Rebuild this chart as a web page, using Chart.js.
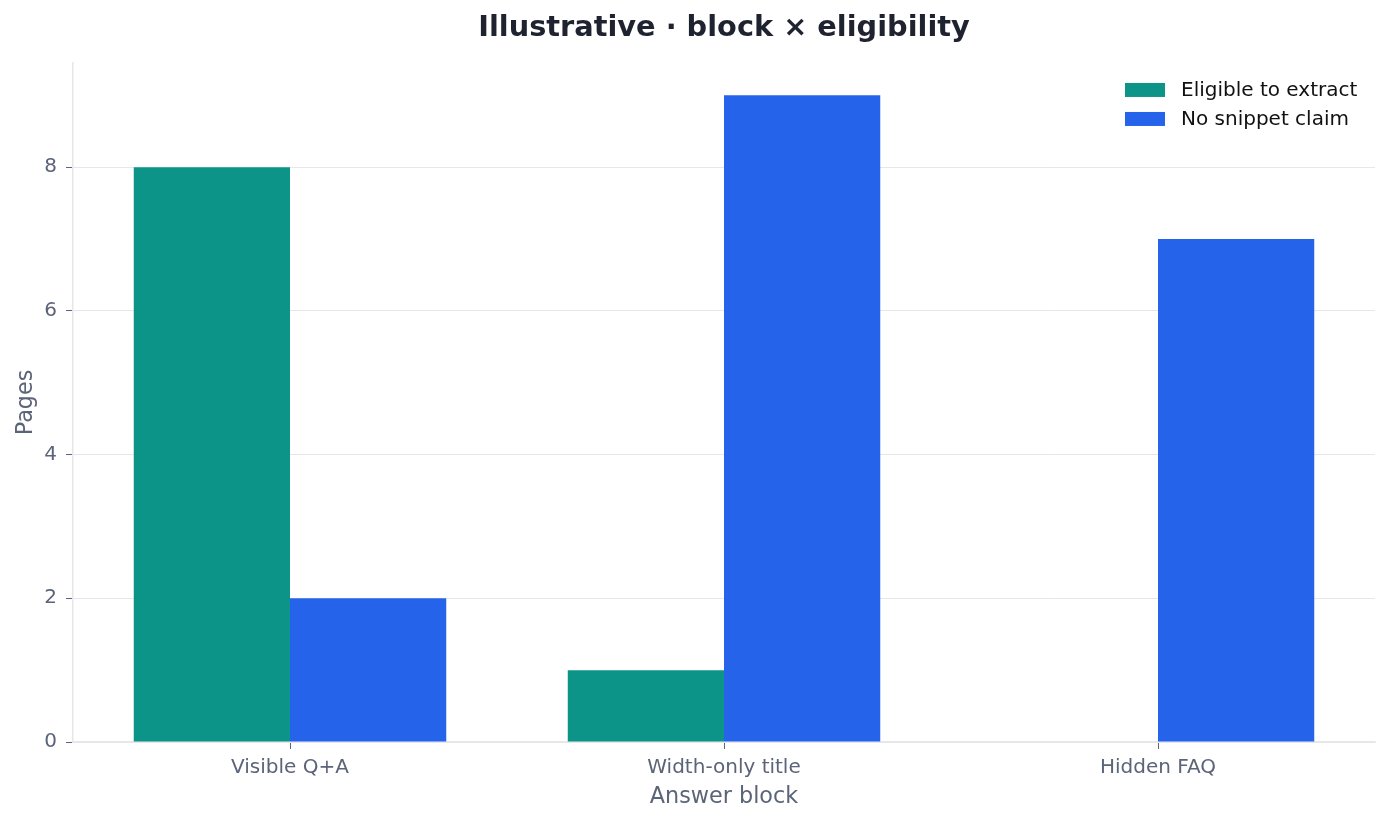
<!DOCTYPE html>
<html>
<head>
<meta charset="utf-8">
<script src="https://cdn.jsdelivr.net/npm/chart.js@4/dist/chart.umd.min.js"></script>
<style>
  html, body { margin: 0; padding: 0; background: #fff; }
  #wrap { width: 1391px; height: 821px; }
</style>
</head>
<body>
<div id="wrap"><canvas id="chart" width="1391" height="821"></canvas></div>
<script>
// data
const categories = ['Visible Q+A', 'Width-only title', 'Hidden FAQ'];
const eligible = [8, 1, 0];
const noSnippet = [2, 9, 7];
const seriesNames = ['Eligible to extract', 'No snippet claim'];
const yTicks = [0, 2, 4, 6, 8];

const tickColor = '#5b6478';
const lineColor = '#e5e7eb';
const font = 'DejaVu Sans';

// legend drawn inside the plot, top right
const insideLegend = {
  id: 'insideLegend',
  afterDraw(chart) {
    const ctx = chart.ctx;
    const area = chart.chartArea;
    ctx.save();
    ctx.font = '20px "' + font + '"';
    ctx.textBaseline = 'middle';
    chart.data.datasets.forEach((ds, i) => {
      const y = area.top + 27 + i * 29;
      const x = area.right - 250;
      ctx.fillStyle = ds.backgroundColor;
      ctx.fillRect(x, y - 7, 40, 14);
      ctx.fillStyle = '#111';
      ctx.fillText(ds.label, x + 56, y + 1);
    });
    ctx.restore();
  }
};

new Chart(document.getElementById('chart'), {
  type: 'bar',
  data: {
    labels: categories,
    datasets: [
      { label: seriesNames[0], data: eligible, backgroundColor: '#0d9488' },
      { label: seriesNames[1], data: noSnippet, backgroundColor: '#2563eb' }
    ]
  },
  options: {
    responsive: false,
    animation: false,
    devicePixelRatio: 1,
    layout: { padding: { left: 0, right: 16, top: 0, bottom: 0 } },
    datasets: { bar: { categoryPercentage: 0.72, barPercentage: 1.0 } },
    plugins: {
      legend: { display: false },
      tooltip: { enabled: false },
      title: {
        display: true,
        fullSize: false,
        text: 'Illustrative · block × eligibility',
        color: '#1f2330',
        font: { family: font, size: 28.8, weight: 'bold', lineHeight: 1.2 },
        padding: { top: 11, bottom: 17.4 }
      }
    },
    scales: {
      x: {
        offset: true,
        grid: { offset: false, drawOnChartArea: false, drawTicks: true, tickLength: 7, tickColor: tickColor, lineWidth: 1 },
        border: { color: lineColor, width: 1.5 },
        ticks: { color: tickColor, font: { family: font, size: 20 }, padding: 7 },
        title: { display: true, text: 'Answer block', color: tickColor, font: { family: font, size: 22.3 }, padding: { top: 0, bottom: 10 } },
        afterFit(scale) { scale.height = 79; }
      },
      y: {
        min: 0,
        max: 9.45,
        ticks: { stepSize: 2, color: tickColor, font: { family: font, size: 20 }, padding: 9 },
        afterBuildTicks(scale) { scale.ticks = yTicks.map(v => ({ value: v })); },
        grid: { color: lineColor, lineWidth: 1, tickColor: tickColor, tickLength: 7 },
        border: { color: lineColor, width: 1.5 },
        title: { display: true, text: 'Pages', color: tickColor, font: { family: font, size: 22.3 }, padding: { top: 13, bottom: 0 } },
        afterFit(scale) { scale.width = 73; }
      }
    }
  },
  plugins: [insideLegend]
});
</script>
</body>
</html>
